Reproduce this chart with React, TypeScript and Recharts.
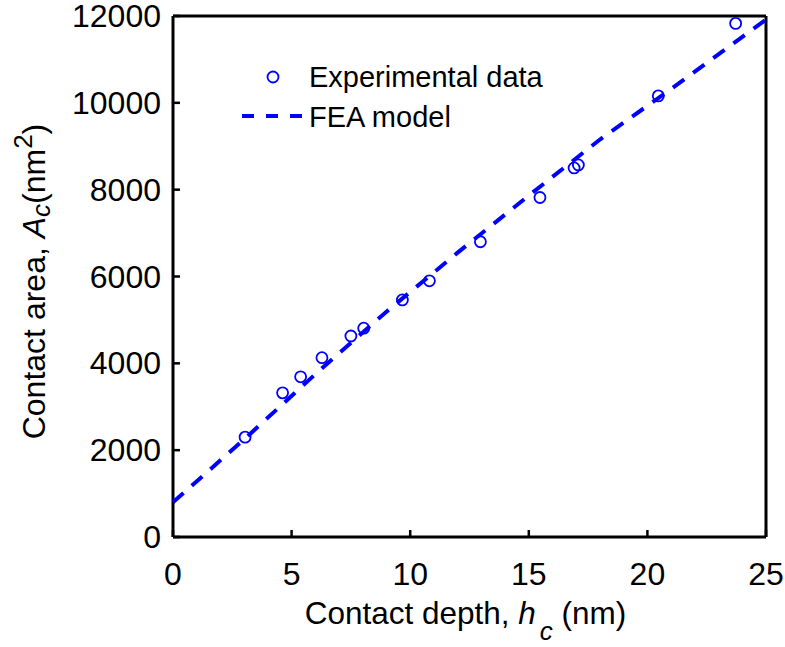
import React from 'react';
import {
  ScatterChart,
  Scatter,
  XAxis,
  YAxis,
  Label,
} from 'recharts';

// contact depth h_c (nm) vs contact area A_c (nm^2)
const depth = [3.04, 4.62, 5.38, 6.28, 7.5, 8.04, 9.67, 10.81, 12.96, 15.47, 16.91, 17.09, 20.46, 23.72];
const area = [2300, 3320, 3690, 4130, 4630, 4810, 5460, 5900, 6800, 7820, 8500, 8570, 10160, 11830];

// FEA model curve
const modelDepth = [0, 3, 6, 9, 12, 15, 18, 21, 25];
const modelArea = [800, 2250, 3750, 5190, 6550, 7865, 9155, 10320, 11920];

const xTicks = [0, 5, 10, 15, 20, 25];
const yTicks = [0, 2000, 4000, 6000, 8000, 10000, 12000];

const BLUE = '#0000ff';
const FONT = '"Liberation Sans", Arial, Helvetica, sans-serif';

const expData = depth.map((x, i) => ({ x, y: area[i] }));
const modelData = modelDepth.map((x, i) => ({ x, y: modelArea[i] }));

const TICK = 7;

const BottomTick = (props: any) => {
  const { x, y, payload } = props;
  return (
    <g>
      <line x1={x} y1={y} x2={x} y2={y - TICK} stroke="#000" strokeWidth={2.5} />
      <text x={x} y={y + 48} textAnchor="middle" fontSize={32} fontFamily={FONT} fill="#000">
        {payload.value}
      </text>
    </g>
  );
};

const LeftTick = (props: any) => {
  const { x, y, payload } = props;
  return (
    <g>
      <line x1={x} y1={y} x2={x + TICK} y2={y} stroke="#000" strokeWidth={2.5} />
      <text x={x - 12} y={y + 11} textAnchor="end" fontSize={32} fontFamily={FONT} fill="#000">
        {payload.value}
      </text>
    </g>
  );
};

const TopTick = (props: any) => {
  const { x, y } = props;
  return <line x1={x} y1={y} x2={x} y2={y + TICK} stroke="#000" strokeWidth={2.5} />;
};

const RightTick = (props: any) => {
  const { x, y } = props;
  return <line x1={x} y1={y} x2={x - TICK} y2={y} stroke="#000" strokeWidth={2.5} />;
};

const Circle = (props: any) => {
  const { cx, cy } = props;
  return <circle cx={cx} cy={cy} r={5.5} fill="none" stroke={BLUE} strokeWidth={1.8} />;
};

const NoDot = () => <g />;

const LegendBox = () => (
  <svg
    width={340}
    height={90}
    style={{ position: 'absolute', left: 230, top: 55, pointerEvents: 'none' }}
  >
    <circle cx={43} cy={22} r={5.5} fill="none" stroke={BLUE} strokeWidth={1.8} />
    <text x={79} y={32} fontSize={29} fontFamily={FONT} fill="#000">
      Experimental data
    </text>
    <line x1={12} y1={61} x2={74} y2={61} stroke={BLUE} strokeWidth={4} strokeDasharray="12 12" />
    <text x={79} y={72} fontSize={29} fontFamily={FONT} fill="#000">
      FEA model
    </text>
  </svg>
);

const XTitle = (props: any) => {
  const { viewBox } = props;
  const cx = viewBox.x + viewBox.width / 2 - 4;
  return (
    <text x={cx} y={viewBox.y + 87} textAnchor="middle" fontSize={31.5} fontFamily={FONT} fill="#000">
      Contact depth,{' '}
      <tspan fontStyle="italic">h</tspan>
      <tspan fontStyle="italic" fontSize={26} dx={4} dy={16}>c</tspan>
      <tspan dy={-16}> (nm)</tspan>
    </text>
  );
};

const YTitle = (props: any) => {
  const { viewBox } = props;
  const cx = 45;
  const cy = viewBox.y + viewBox.height / 2 + 5;
  return (
    <text
      x={cx}
      y={cy}
      transform={`rotate(-90 ${cx} ${cy})`}
      textAnchor="middle"
      fontSize={32}
      fontFamily={FONT}
      fill="#000"
    >
      Contact area,{' '}
      <tspan fontStyle="italic">A</tspan>
      <tspan fontStyle="italic" fontSize={26} dy={5}>c</tspan>
      <tspan dy={-5}>(nm</tspan>
      <tspan fontSize={26} dy={-13}>2</tspan>
      <tspan dy={13}>)</tspan>
    </text>
  );
};

export default function App() {
  return (
    <div style={{ position: 'absolute', left: 0, top: 0, width: 785, height: 647, background: '#fff' }}>
      <ScatterChart width={785} height={647} margin={{ top: 15, right: 18, bottom: 109, left: 172 }}>
        <XAxis
          xAxisId="bottom"
          type="number"
          dataKey="x"
          domain={[0, 25]}
          ticks={xTicks}
          height={1}
          tickSize={0}
          tickMargin={0}
          tickLine={false}
          axisLine={{ stroke: '#000', strokeWidth: 3 }}
          tick={(p: any) => <BottomTick {...p} />}
          interval={0}
        >
          <Label content={(p: any) => <XTitle {...p} />} />
        </XAxis>
        <XAxis
          xAxisId="top"
          orientation="top"
          type="number"
          dataKey="x"
          domain={[0, 25]}
          ticks={xTicks}
          height={1}
          tickSize={0}
          tickMargin={0}
          tickLine={false}
          axisLine={{ stroke: '#000', strokeWidth: 3 }}
          tick={(p: any) => <TopTick {...p} />}
          interval={0}
        />
        <YAxis
          yAxisId="left"
          type="number"
          dataKey="y"
          domain={[0, 12000]}
          ticks={yTicks}
          width={1}
          tickSize={0}
          tickMargin={0}
          tickLine={false}
          axisLine={{ stroke: '#000', strokeWidth: 3 }}
          tick={(p: any) => <LeftTick {...p} />}
          interval={0}
        >
          <Label content={(p: any) => <YTitle {...p} />} />
        </YAxis>
        <YAxis
          yAxisId="right"
          orientation="right"
          type="number"
          dataKey="y"
          domain={[0, 12000]}
          ticks={yTicks}
          width={1}
          tickSize={0}
          tickMargin={0}
          tickLine={false}
          axisLine={{ stroke: '#000', strokeWidth: 3 }}
          tick={(p: any) => <RightTick {...p} />}
          interval={0}
        />
        <Scatter
          name="FEA model"
          data={modelData}
          xAxisId="bottom"
          yAxisId="left"
          line={{ stroke: BLUE, strokeWidth: 4, strokeDasharray: '14 11' }}
          shape={NoDot}
          isAnimationActive={false}
        />
        <Scatter
          name="Experimental data"
          data={expData}
          xAxisId="bottom"
          yAxisId="left"
          shape={Circle}
          isAnimationActive={false}
        />
      </ScatterChart>
      <LegendBox />
    </div>
  );
}
